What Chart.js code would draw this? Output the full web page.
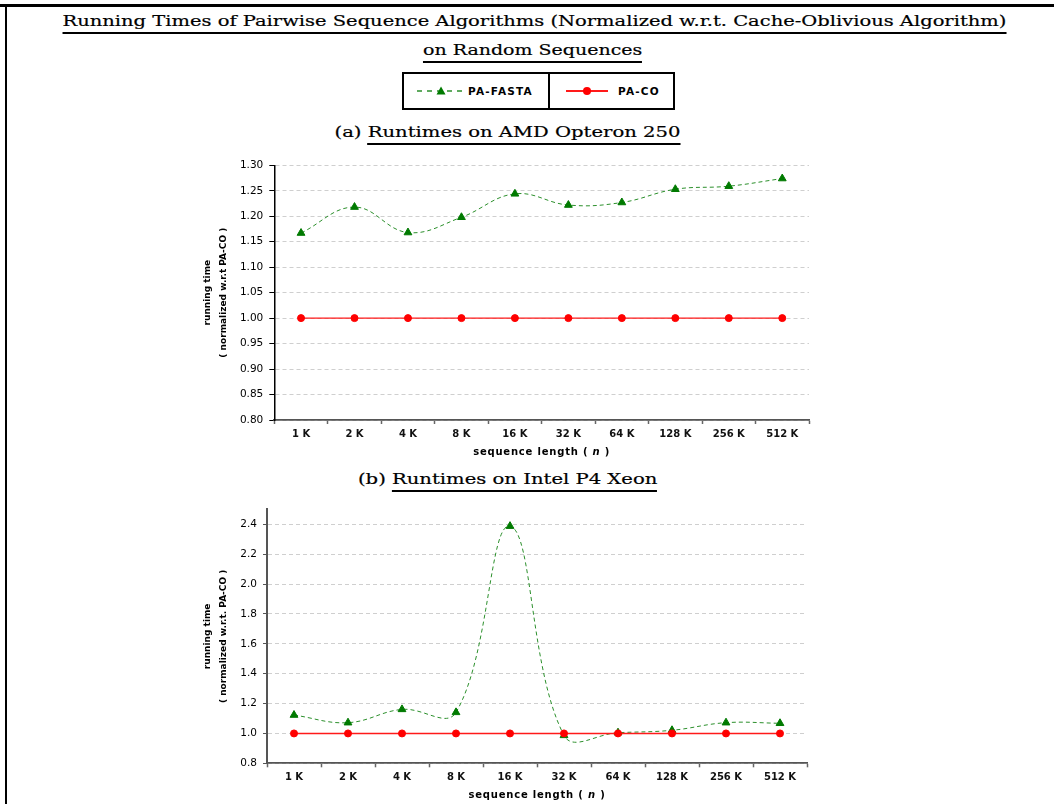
<!DOCTYPE html>
<html>
<head>
<meta charset="utf-8">
<script src="https://cdn.jsdelivr.net/npm/chart.js@4.4.1/dist/chart.umd.min.js"></script>
<style>
  body { margin:0; width:1054px; height:804px; background:#fff; position:relative; overflow:hidden; font-family:"DejaVu Sans", sans-serif; }
  .frameTop { position:absolute; left:0; top:4px; width:1054px; height:3px; background:#000; }
  .frameLeft { position:absolute; left:5px; top:4px; width:2px; height:800px; background:#000; }
  .ttl { position:absolute; white-space:nowrap; font-family:"DejaVu Serif", serif; font-size:15px; line-height:15px; color:#000; transform-origin:center top; -webkit-text-stroke:0.2px #000; }
  .u { border-bottom:2px solid #000; padding-bottom:2px; }
  canvas { position:absolute; }
  .legend { position:absolute; left:402px; top:72px; width:269px; height:34px; border:2px solid #000; }
  .legend .div { position:absolute; left:144px; top:0; width:2px; height:34px; background:#000; }
  .legend svg { position:absolute; top:12px; }
  .legend span { position:absolute; top:11px; font:bold 10.5px "DejaVu Sans", sans-serif; letter-spacing:1.2px; line-height:12px; color:#000; }
</style>
</head>
<body>
<div class="frameTop"></div>
<div class="frameLeft"></div>

<div class="ttl" id="t1" data-w="944" data-cx="534" style="top:14px"><span class="u">Running Times of Pairwise Sequence Algorithms (Normalized w.r.t. Cache-Oblivious Algorithm)</span></div>
<div class="ttl" id="t2" data-w="219" data-cx="532.5" style="top:43px"><span class="u">on Random Sequences</span></div>

<div class="legend">
  <svg style="left:13px" width="48" height="10" viewBox="0 0 48 10">
    <line x1="0" y1="5" x2="48" y2="5" stroke="#2b8f2b" stroke-width="1.6" stroke-dasharray="5,5"/>
    <polygon points="24,0.5 28.5,8.5 19.5,8.5" fill="#007a00"/>
  </svg>
  <span style="left:64px">PA-FASTA</span>
  <div class="div"></div>
  <svg style="left:162px" width="42" height="10" viewBox="0 0 42 10">
    <line x1="0" y1="5" x2="42" y2="5" stroke="#ff1a1a" stroke-width="1.8"/>
    <circle cx="21" cy="5" r="4" fill="#ff0000"/>
  </svg>
  <span style="left:214px">PA-CO</span>
</div>

<div class="ttl" id="t3" data-w="346" data-cx="507" style="top:125px">(a) <span class="u">Runtimes on AMD Opteron 250</span></div>
<canvas id="amd" width="650" height="316" style="left:180px;top:150px"></canvas>

<div class="ttl" id="t4" data-w="299" data-cx="507.5" style="top:472px">(b) <span class="u">Runtimes on Intel P4 Xeon</span></div>
<canvas id="xeon" width="650" height="309" style="left:180px;top:495px"></canvas>

<script>
// sequence lengths on the x axis
const sizes = ['1 K', '2 K', '4 K', '8 K', '16 K', '32 K', '64 K', '128 K', '256 K', '512 K'];

// (a) AMD Opteron 250 - normalized w.r.t. PA-CO
const amdFasta = [1.167, 1.218, 1.168, 1.198, 1.244, 1.222, 1.227, 1.253, 1.259, 1.274];
const amdCo = [1.00, 1.00, 1.00, 1.00, 1.00, 1.00, 1.00, 1.00, 1.00, 1.00];
const amdTicks = [0.80, 0.85, 0.90, 0.95, 1.00, 1.05, 1.10, 1.15, 1.20, 1.25, 1.30];

// (b) Intel P4 Xeon
const xeonFasta = [1.123, 1.072, 1.161, 1.141, 2.388, 0.987, 1.005, 1.021, 1.072, 1.068];
const xeonCo = [1.0, 1.0, 1.0, 1.0, 1.0, 1.0, 1.0, 1.0, 1.0, 1.0];
const xeonTicks = [0.8, 1.0, 1.2, 1.4, 1.6, 1.8, 2.0, 2.2, 2.4];

// stretch the serif headings to the widths in the figure
document.querySelectorAll('.ttl').forEach(el => {
  const w0 = el.offsetWidth;
  const cx = parseFloat(el.dataset.cx);
  el.style.left = (cx - w0 / 2) + 'px';
  el.style.transform = `scaleX(${parseFloat(el.dataset.w) / w0})`;
});

// x axis title with italic n
const xTitle = {
  id: 'xTitle',
  afterDraw(chart, args, opts) {
    const {ctx, chartArea} = chart;
    const parts = [['sequence length ( ', 'bold'], ['n', 'italic bold'], [' )', 'bold']];
    ctx.save();
    ctx.letterSpacing = '0.8px';
    ctx.fillStyle = '#000';
    ctx.textBaseline = 'middle';
    let total = 0;
    parts.forEach(p => { ctx.font = p[1] + ' 10px "DejaVu Sans"'; total += ctx.measureText(p[0]).width; });
    let x = (chartArea.left + chartArea.right) / 2 - total / 2;
    const y = chartArea.bottom + opts.dy;
    parts.forEach(p => {
      ctx.font = p[1] + ' 10px "DejaVu Sans"';
      ctx.fillText(p[0], x, y);
      x += ctx.measureText(p[0]).width;
    });
    ctx.restore();
  }
};

function makeChart(id, fasta, co, o) {
  return new Chart(document.getElementById(id), {
    type: 'line',
    data: {
      labels: sizes,
      datasets: [
        {
          label: 'PA-FASTA', data: fasta, order: 1,
          borderColor: '#2b8f2b', borderWidth: 1, borderDash: [4, 3], tension: 0.4,
          pointStyle: 'triangle', pointRadius: 4.5, pointBackgroundColor: '#007a00',
          pointBorderColor: '#007a00', pointBorderWidth: 1, clip: false
        },
        {
          label: 'PA-CO', data: co, order: 0,
          borderColor: '#ff1a1a', borderWidth: 1.4, tension: 0,
          pointStyle: 'circle', pointRadius: 3.5, pointBackgroundColor: '#ff0000',
          pointBorderColor: '#ff0000', pointBorderWidth: 1, clip: false
        }
      ]
    },
    options: {
      responsive: false,
      animation: false,
      devicePixelRatio: 1,
      layout: { padding: { top: o.padTop, right: o.padRight, left: 0, bottom: 0 } },
      plugins: { legend: { display: false }, tooltip: { enabled: false }, xTitle: { dy: o.titleDy } },
      scales: {
        x: {
          offset: true,
          afterFit: s => { s.height = o.xHeight; },
          grid: { display: true, drawOnChartArea: false, offset: true, tickLength: 4, tickColor: '#666', tickWidth: 1.5 },
          border: { color: '#555', width: 1.8, z: 1 },
          ticks: { font: { family: 'DejaVu Sans', size: 10, weight: 'bold' }, color: '#111', padding: 4, maxRotation: 0, autoSkip: false }
        },
        y: {
          min: o.min, max: o.max,
          afterFit: s => { s.width = o.yWidth; },
          afterBuildTicks: s => { s.ticks = o.ticks.map(v => ({ value: v })); },
          grid: { color: '#cfcfcf', lineWidth: 1, tickColor: o.yColor, tickLength: o.tickLen, tickWidth: 1, z: -1 },
          border: { dash: [4, 3], color: o.yColor, width: o.yBorder, z: 1 },
          ticks: {
            font: { family: 'DejaVu Sans', size: 10.5 }, color: '#000', padding: 6,
            callback: v => v.toFixed(o.decimals)
          },
          title: {
            display: true, text: o.yTitle, color: '#000',
            font: { family: 'DejaVu Sans', size: 9, weight: 'bold', lineHeight: '16px' },
            padding: { top: 20, bottom: 0 }
          }
        }
      }
    },
    plugins: [xTitle]
  });
}

makeChart('amd', amdFasta, amdCo, {
  min: 0.8, max: 1.3, ticks: amdTicks, decimals: 2,
  yWidth: 94.3, xHeight: 46, padTop: 15.3, padRight: 21, titleDy: 32.7,
  yColor: '#000', yBorder: 1.5, tickLen: 5,
  yTitle: ['running time', '( normalized w.r.t PA-CO )']
});

makeChart('xeon', xeonFasta, xeonCo, {
  min: 0.8, max: 2.5, ticks: xeonTicks, decimals: 1,
  yWidth: 87, xHeight: 40.7, padTop: 14.4, padRight: 23, titleDy: 31.7,
  yColor: '#555', yBorder: 2, tickLen: 4,
  yTitle: ['running time', '( normalized w.r.t. PA-CO )']
});
</script>
</body>
</html>
